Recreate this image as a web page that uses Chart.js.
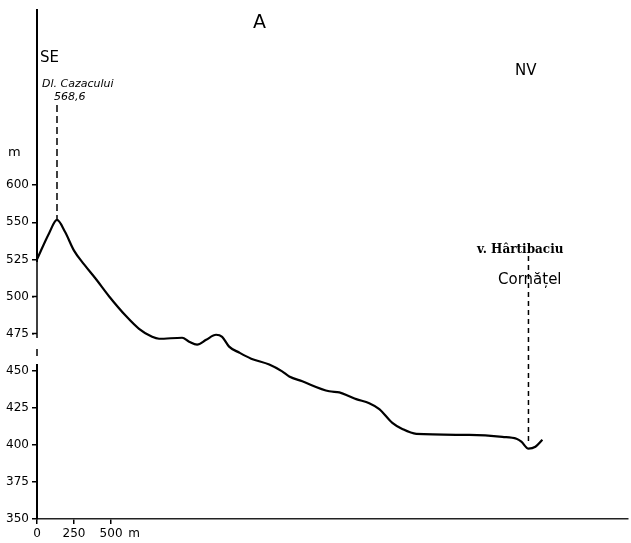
<!DOCTYPE html>
<html>
<head>
<meta charset="utf-8">
<script src="https://cdn.jsdelivr.net/npm/chart.js@4/dist/chart.umd.min.js"></script>
<style>
html,body{margin:0;padding:0;background:#fff;}
#wrap{width:631px;height:543px;position:relative;}
</style>
</head>
<body>
<div id="wrap"><canvas id="c" width="631" height="543"></canvas></div>
<script>
// distance along profile (m) and elevation (m, on the drawing's scale)
const distance = [0,81,135,189,250,318,399,486,601,689,777,824,980,1027,1081,1142,1209,1250,1297,1365,1446,1568,1655,1703,1791,1973,2041,2108,2155,2243,2311,2399,2466,2561,2919,3142,3237,3270,3318,3365,3412];
const elevation = [525,542.5,551.6,543.6,530.9,521.6,511.6,500.2,486.8,478.2,472.8,471.5,472.2,469.5,467.5,470.8,474.2,472.8,466.2,462.2,458.1,454.1,449.5,446.1,442.8,436.1,435.4,432.8,430.8,428.1,424.1,414.8,410.7,407.4,406.7,405.4,404.1,402.1,397.4,398.7,403.4];
const xTickValues = [0,250,500,655];
const xTickLabels = ['0','250','500','m'];
const yTickValues = [350,375,400,425,450,475,500,525,550,575];
const yTickLabels = ['350','375','400','425','450','475','500','525','550','600'];
const titleText = 'A';
const leftLabel = 'SE';
const rightLabel = 'NV';
const peakName = 'Dl. Cazacului';
const peakValue = '568,6';
const valleyName = 'v. Hârtibaciu';
const villageName = 'Cornățel';
const yUnit = 'm';

const FONT = '"Liberation Sans Narrow","DejaVu Sans",sans-serif';

const annot = {
  id: 'annot',
  afterDraw(chart) {
    const {ctx, scales: {x, y}} = chart;
    ctx.save();
    // axis break on y axis
    const ax = y.right;
    ctx.fillStyle = '#fff';
    ctx.fillRect(ax - 3, 262, 6, 102);
    ctx.strokeStyle = '#000';
    ctx.lineWidth = 1.5;
    ctx.beginPath();
    ctx.moveTo(ax, 262); ctx.lineTo(ax, 338);
    ctx.moveTo(ax, 349); ctx.lineTo(ax, 356);
    ctx.stroke();
    ctx.beginPath();
    [475, 500].forEach(v => { const t = y.getPixelForValue(v); ctx.moveTo(ax - 5, t); ctx.lineTo(ax, t); });
    ctx.stroke();

    ctx.fillStyle = '#000';
    ctx.textBaseline = 'middle';
    ctx.textAlign = 'left';
    ctx.font = '19px ' + FONT;
    ctx.fillText(titleText, 253, 23);
    ctx.font = '15px ' + FONT;
    ctx.fillText(leftLabel, 40, 58);
    ctx.fillText(rightLabel, 515, 71);
    ctx.font = '13px ' + FONT;
    ctx.fillText(yUnit, 8, 153);

    // peak annotation
    let pi = 0, vi = 0;
    elevation.forEach((v, i) => { if (v > elevation[pi]) pi = i; if (v < elevation[vi]) vi = i; });
    const px = x.getPixelForValue(distance[pi]);
    const py = y.getPixelForValue(elevation[pi]);
    ctx.font = 'italic 11px ' + FONT;
    ctx.fillText(peakName, 42, 84);
    ctx.fillText(peakValue, 54, 97);
    ctx.setLineDash([7, 4]);
    ctx.lineWidth = 1.5;
    ctx.beginPath();
    ctx.moveTo(px, 105); ctx.lineTo(px, py);
    ctx.stroke();

    // valley annotation
    const vx = x.getPixelForValue(distance[vi]);
    const vy = y.getPixelForValue(elevation[vi]);
    ctx.setLineDash([5, 4]);
    ctx.beginPath();
    ctx.moveTo(vx, 256); ctx.lineTo(vx, vy - 4);
    ctx.stroke();
    ctx.setLineDash([]);
    ctx.font = 'bold 12px "DejaVu Serif",serif';
    ctx.fillText(valleyName, 477, 250);
    ctx.font = '15px ' + FONT;
    ctx.fillText(villageName, 498, 280);
    ctx.restore();
  }
};

new Chart(document.getElementById('c'), {
  type: 'line',
  data: {
    datasets: [{
      data: distance.map((d, i) => ({x: d, y: elevation[i]})),
      borderColor: '#000',
      borderWidth: 2.2,
      pointRadius: 0,
      cubicInterpolationMode: 'monotone',
      fill: false
    }]
  },
  options: {
    responsive: false,
    animation: false,
    layout: {padding: {left: 0, top: 5, right: 3, bottom: 0}},
    plugins: {legend: {display: false}, tooltip: {enabled: false}},
    scales: {
      x: {
        type: 'linear',
        min: 0,
        max: 3990,
        afterBuildTicks: s => { s.ticks = xTickValues.map(v => ({value: v})); },
        afterFit: s => { s.height = 24; },
        border: {color: '#222', width: 1.5},
        grid: {
          drawOnChartArea: false,
          tickLength: 5,
          tickColor: c => (c.index === 3 ? 'rgba(0,0,0,0)' : '#000'),
          lineWidth: 1.5
        },
        ticks: {
          autoSkip: false,
          maxRotation: 0,
          padding: 3,
          color: '#000',
          font: {family: FONT, size: 12},
          callback: (v, i) => xTickLabels[i]
        }
      },
      y: {
        type: 'linear',
        min: 350,
        max: 693,
        afterBuildTicks: s => { s.ticks = yTickValues.map(v => ({value: v})); },
        afterFit: s => { s.width = 37; },
        border: {color: '#000', width: 2},
        grid: {drawOnChartArea: false, tickLength: 5, tickColor: '#000', lineWidth: 1.5},
        ticks: {
          autoSkip: false,
          padding: 3,
          color: '#000',
          font: {family: FONT, size: 12},
          callback: (v, i) => yTickLabels[i]
        }
      }
    }
  },
  plugins: [annot]
});
</script>
</body>
</html>
